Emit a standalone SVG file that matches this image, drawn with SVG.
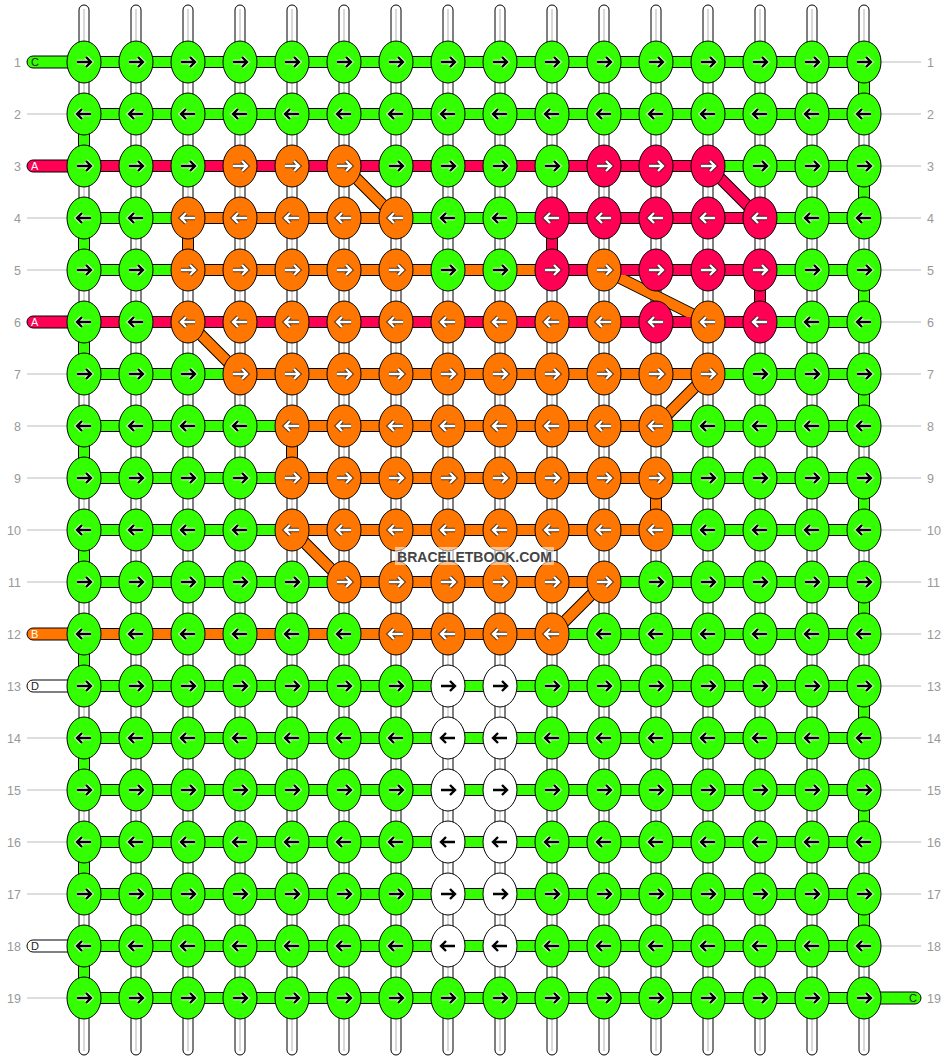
<svg xmlns="http://www.w3.org/2000/svg" xmlns:xlink="http://www.w3.org/1999/xlink" width="948" height="1060" viewBox="0 0 948 1060">
<style>
.t{fill:#fff;stroke:#000;stroke-width:1}
.tl{stroke:#c0c0c0;stroke-width:1.2}
.ol{stroke:#000;stroke-width:12;fill:none}
.cg{stroke:#33ff00;stroke-width:10;fill:none}
.co{stroke:#ff7700;stroke-width:10;fill:none}
.cp{stroke:#ff0055;stroke-width:10;fill:none}
.gl{stroke:#bbb;stroke-width:1}
.num{font-family:"Liberation Sans",Arial,sans-serif;font-size:12.5px;fill:#999}
.tab{stroke:#000;stroke-width:1}
.tt{font-family:"Liberation Sans",Arial,sans-serif;font-size:11px}
.hw{stroke:#fff;stroke-width:4.4;fill:none;stroke-opacity:.85}
.ab{stroke:#000;stroke-width:2.4;fill:none}
.hb{stroke:#222;stroke-width:4.4;fill:none;stroke-opacity:.8}
.aw{stroke:#fff;stroke-width:2.4;fill:none}
.ne{stroke:#000;stroke-width:1}
</style>
<defs>
<path id="ar" d="M-7,0H7M2,-5L7,0L2,5"/>
<path id="al" d="M7,0H-7M-2,-5L-7,0L-2,5"/>
<g id="GR"><ellipse class="ne" rx="17" ry="21" fill="#33ff00"/><use href="#ar" class="hw"/><use href="#ar" class="ab"/></g>
<g id="GL"><ellipse class="ne" rx="17" ry="21" fill="#33ff00"/><use href="#al" class="hw"/><use href="#al" class="ab"/></g>
<g id="WR"><ellipse class="ne" rx="17" ry="21" fill="#fff"/><use href="#ar" class="ab"/></g>
<g id="WL"><ellipse class="ne" rx="17" ry="21" fill="#fff"/><use href="#al" class="ab"/></g>
<g id="OR"><ellipse class="ne" rx="17" ry="21" fill="#ff7700"/><use href="#ar" class="hb"/><use href="#ar" class="aw"/></g>
<g id="OL"><ellipse class="ne" rx="17" ry="21" fill="#ff7700"/><use href="#al" class="hb"/><use href="#al" class="aw"/></g>
<g id="PR"><ellipse class="ne" rx="17" ry="21" fill="#ff0055"/><use href="#ar" class="hb"/><use href="#ar" class="aw"/></g>
<g id="PL"><ellipse class="ne" rx="17" ry="21" fill="#ff0055"/><use href="#al" class="hb"/><use href="#al" class="aw"/></g>
</defs>
<rect width="948" height="1060" fill="#fff"/>
<g id="strings">
<rect class="t" x="79" y="5" width="10" height="1050" rx="5"/><line class="tl" x1="84" y1="9" x2="84" y2="1051"/>
<rect class="t" x="131" y="5" width="10" height="1050" rx="5"/><line class="tl" x1="136" y1="9" x2="136" y2="1051"/>
<rect class="t" x="183" y="5" width="10" height="1050" rx="5"/><line class="tl" x1="188" y1="9" x2="188" y2="1051"/>
<rect class="t" x="235" y="5" width="10" height="1050" rx="5"/><line class="tl" x1="240" y1="9" x2="240" y2="1051"/>
<rect class="t" x="287" y="5" width="10" height="1050" rx="5"/><line class="tl" x1="292" y1="9" x2="292" y2="1051"/>
<rect class="t" x="339" y="5" width="10" height="1050" rx="5"/><line class="tl" x1="344" y1="9" x2="344" y2="1051"/>
<rect class="t" x="391" y="5" width="10" height="1050" rx="5"/><line class="tl" x1="396" y1="9" x2="396" y2="1051"/>
<rect class="t" x="443" y="5" width="10" height="1050" rx="5"/><line class="tl" x1="448" y1="9" x2="448" y2="1051"/>
<rect class="t" x="495" y="5" width="10" height="1050" rx="5"/><line class="tl" x1="500" y1="9" x2="500" y2="1051"/>
<rect class="t" x="547" y="5" width="10" height="1050" rx="5"/><line class="tl" x1="552" y1="9" x2="552" y2="1051"/>
<rect class="t" x="599" y="5" width="10" height="1050" rx="5"/><line class="tl" x1="604" y1="9" x2="604" y2="1051"/>
<rect class="t" x="651" y="5" width="10" height="1050" rx="5"/><line class="tl" x1="656" y1="9" x2="656" y2="1051"/>
<rect class="t" x="703" y="5" width="10" height="1050" rx="5"/><line class="tl" x1="708" y1="9" x2="708" y2="1051"/>
<rect class="t" x="755" y="5" width="10" height="1050" rx="5"/><line class="tl" x1="760" y1="9" x2="760" y2="1051"/>
<rect class="t" x="807" y="5" width="10" height="1050" rx="5"/><line class="tl" x1="812" y1="9" x2="812" y2="1051"/>
<rect class="t" x="859" y="5" width="10" height="1050" rx="5"/><line class="tl" x1="864" y1="9" x2="864" y2="1051"/>
</g>
<g id="labels">
<g class="gl">
<line x1="27" y1="114" x2="67" y2="114"/><line x1="27" y1="218" x2="67" y2="218"/><line x1="27" y1="270" x2="67" y2="270"/><line x1="27" y1="374" x2="67" y2="374"/><line x1="27" y1="426" x2="67" y2="426"/><line x1="27" y1="478" x2="67" y2="478"/><line x1="27" y1="530" x2="67" y2="530"/><line x1="27" y1="582" x2="67" y2="582"/><line x1="27" y1="738" x2="67" y2="738"/><line x1="27" y1="790" x2="67" y2="790"/><line x1="27" y1="842" x2="67" y2="842"/><line x1="27" y1="894" x2="67" y2="894"/><line x1="27" y1="998" x2="67" y2="998"/>
<line x1="881" y1="62" x2="921" y2="62"/><line x1="881" y1="114" x2="921" y2="114"/><line x1="881" y1="166" x2="921" y2="166"/><line x1="881" y1="218" x2="921" y2="218"/><line x1="881" y1="270" x2="921" y2="270"/><line x1="881" y1="322" x2="921" y2="322"/><line x1="881" y1="374" x2="921" y2="374"/><line x1="881" y1="426" x2="921" y2="426"/><line x1="881" y1="478" x2="921" y2="478"/><line x1="881" y1="530" x2="921" y2="530"/><line x1="881" y1="582" x2="921" y2="582"/><line x1="881" y1="634" x2="921" y2="634"/><line x1="881" y1="686" x2="921" y2="686"/><line x1="881" y1="738" x2="921" y2="738"/><line x1="881" y1="790" x2="921" y2="790"/><line x1="881" y1="842" x2="921" y2="842"/><line x1="881" y1="894" x2="921" y2="894"/><line x1="881" y1="946" x2="921" y2="946"/>
</g>
<g class="num" text-anchor="end">
<text x="21" y="66.5">1</text><text x="21" y="118.5">2</text><text x="21" y="170.5">3</text><text x="21" y="222.5">4</text><text x="21" y="274.5">5</text><text x="21" y="326.5">6</text><text x="21" y="378.5">7</text><text x="21" y="430.5">8</text><text x="21" y="482.5">9</text><text x="21" y="534.5">10</text><text x="21" y="586.5">11</text><text x="21" y="638.5">12</text><text x="21" y="690.5">13</text><text x="21" y="742.5">14</text><text x="21" y="794.5">15</text><text x="21" y="846.5">16</text><text x="21" y="898.5">17</text><text x="21" y="950.5">18</text><text x="21" y="1002.5">19</text>
</g>
<g class="num">
<text x="927" y="66.5">1</text><text x="927" y="118.5">2</text><text x="927" y="170.5">3</text><text x="927" y="222.5">4</text><text x="927" y="274.5">5</text><text x="927" y="326.5">6</text><text x="927" y="378.5">7</text><text x="927" y="430.5">8</text><text x="927" y="482.5">9</text><text x="927" y="534.5">10</text><text x="927" y="586.5">11</text><text x="927" y="638.5">12</text><text x="927" y="690.5">13</text><text x="927" y="742.5">14</text><text x="927" y="794.5">15</text><text x="927" y="846.5">16</text><text x="927" y="898.5">17</text><text x="927" y="950.5">18</text><text x="927" y="1002.5">19</text>
</g>
</g>
<g id="connectors">
<path class="ol" d="M84,62H864M84,114H864M84,166H864M84,218H864M84,270H864M84,322H864M84,374H864M84,426H864M84,478H864M84,530H864M84,582H864M84,634H864M84,686H864M84,738H864M84,790H864M84,842H864M84,894H864M84,946H864M84,998H864
M84,114V166M84,218V270M84,322V374M84,426V478M84,530V582M84,634V686M84,738V790M84,842V894M84,946V998
M864,62V114M864,166V218M864,270V322M864,374V426M864,478V530M864,582V634M864,686V738M864,790V842M864,894V946
M188,218V270M292,426V478M656,478V530M552,218V270M760,270V322
M344,166L396,218M604,270L708,322M188,322L240,374M708,374L656,426M292,530L344,582M604,582L552,634M708,166L760,218"/>
<path class="cg" d="M84,62H864M84,114H864M708,166H864M84,218H188M396,218H552M760,218H864M84,270H188M760,270H864M760,322H864M84,374H240M708,374H864M84,426H292M656,426H864M84,478H292M656,478H864M84,530H292M656,530H864M84,582H344M604,582H864M552,634H864M84,686H864M84,738H864M84,790H864M84,842H864M84,894H864M84,946H864M84,998H864
M84,114V166M84,218V270M84,322V374M84,426V478M84,530V582M84,634V686M84,738V790M84,842V894M84,946V998
M864,62V114M864,166V218M864,270V322M864,374V426M864,478V530M864,582V634M864,686V738M864,790V842M864,894V946"/>
<path class="co" d="M188,218H396M188,270H552M240,374H708M292,426H656M292,478H656M292,530H656M344,582H604M84,634H552
M188,218V270M292,426V478M656,478V530
M344,166L396,218M604,270L708,322M188,322L240,374M708,374L656,426M292,530L344,582M604,582L552,634"/>
<path class="cp" d="M84,166H708M552,218H760M552,270H760M84,322H760M552,218V270M760,270V322M708,166L760,218"/>
<g id="tabs">
<rect class="tab" x="27" y="56" width="57" height="12" rx="6" fill="#33ff00"/>
<rect class="tab" x="27" y="160" width="57" height="12" rx="6" fill="#ff0055"/>
<rect class="tab" x="27" y="316" width="57" height="12" rx="6" fill="#ff0055"/>
<rect class="tab" x="27" y="628" width="57" height="12" rx="6" fill="#ff7700"/>
<rect class="tab" x="27" y="680" width="57" height="12" rx="6" fill="#fff"/>
<rect class="tab" x="27" y="940" width="57" height="12" rx="6" fill="#fff"/>
<rect class="tab" x="864" y="992" width="57" height="12" rx="6" fill="#33ff00"/>
<text class="tt" x="31" y="66" fill="#222">C</text>
<text class="tt" x="31" y="170" fill="#fff">A</text>
<text class="tt" x="31" y="326" fill="#fff">A</text>
<text class="tt" x="31" y="638" fill="#fff">B</text>
<text class="tt" x="31" y="690" fill="#222">D</text>
<text class="tt" x="31" y="950" fill="#222">D</text>
<text class="tt" x="909" y="1002" fill="#222">C</text>
</g>
</g>
<g id="nodes">
<g id="k1-1"><use href="#GR" x="84" y="62"/></g><g id="k1-2"><use href="#GR" x="136" y="62"/></g><g id="k1-3"><use href="#GR" x="188" y="62"/></g><g id="k1-4"><use href="#GR" x="240" y="62"/></g><g id="k1-5"><use href="#GR" x="292" y="62"/></g><g id="k1-6"><use href="#GR" x="344" y="62"/></g><g id="k1-7"><use href="#GR" x="396" y="62"/></g><g id="k1-8"><use href="#GR" x="448" y="62"/></g><g id="k1-9"><use href="#GR" x="500" y="62"/></g><g id="k1-10"><use href="#GR" x="552" y="62"/></g><g id="k1-11"><use href="#GR" x="604" y="62"/></g><g id="k1-12"><use href="#GR" x="656" y="62"/></g><g id="k1-13"><use href="#GR" x="708" y="62"/></g><g id="k1-14"><use href="#GR" x="760" y="62"/></g><g id="k1-15"><use href="#GR" x="812" y="62"/></g><g id="k1-16"><use href="#GR" x="864" y="62"/></g>
<g id="k2-1"><use href="#GL" x="84" y="114"/></g><g id="k2-2"><use href="#GL" x="136" y="114"/></g><g id="k2-3"><use href="#GL" x="188" y="114"/></g><g id="k2-4"><use href="#GL" x="240" y="114"/></g><g id="k2-5"><use href="#GL" x="292" y="114"/></g><g id="k2-6"><use href="#GL" x="344" y="114"/></g><g id="k2-7"><use href="#GL" x="396" y="114"/></g><g id="k2-8"><use href="#GL" x="448" y="114"/></g><g id="k2-9"><use href="#GL" x="500" y="114"/></g><g id="k2-10"><use href="#GL" x="552" y="114"/></g><g id="k2-11"><use href="#GL" x="604" y="114"/></g><g id="k2-12"><use href="#GL" x="656" y="114"/></g><g id="k2-13"><use href="#GL" x="708" y="114"/></g><g id="k2-14"><use href="#GL" x="760" y="114"/></g><g id="k2-15"><use href="#GL" x="812" y="114"/></g><g id="k2-16"><use href="#GL" x="864" y="114"/></g>
<g id="k3-1"><use href="#GR" x="84" y="166"/></g><g id="k3-2"><use href="#GR" x="136" y="166"/></g><g id="k3-3"><use href="#GR" x="188" y="166"/></g><g id="k3-4"><use href="#OR" x="240" y="166"/></g><g id="k3-5"><use href="#OR" x="292" y="166"/></g><g id="k3-6"><use href="#OR" x="344" y="166"/></g><g id="k3-7"><use href="#GR" x="396" y="166"/></g><g id="k3-8"><use href="#GR" x="448" y="166"/></g><g id="k3-9"><use href="#GR" x="500" y="166"/></g><g id="k3-10"><use href="#GR" x="552" y="166"/></g><g id="k3-11"><use href="#PR" x="604" y="166"/></g><g id="k3-12"><use href="#PR" x="656" y="166"/></g><g id="k3-13"><use href="#PR" x="708" y="166"/></g><g id="k3-14"><use href="#GR" x="760" y="166"/></g><g id="k3-15"><use href="#GR" x="812" y="166"/></g><g id="k3-16"><use href="#GR" x="864" y="166"/></g>
<g id="k4-1"><use href="#GL" x="84" y="218"/></g><g id="k4-2"><use href="#GL" x="136" y="218"/></g><g id="k4-3"><use href="#OL" x="188" y="218"/></g><g id="k4-4"><use href="#OL" x="240" y="218"/></g><g id="k4-5"><use href="#OL" x="292" y="218"/></g><g id="k4-6"><use href="#OL" x="344" y="218"/></g><g id="k4-7"><use href="#OL" x="396" y="218"/></g><g id="k4-8"><use href="#GL" x="448" y="218"/></g><g id="k4-9"><use href="#GL" x="500" y="218"/></g><g id="k4-10"><use href="#PL" x="552" y="218"/></g><g id="k4-11"><use href="#PL" x="604" y="218"/></g><g id="k4-12"><use href="#PL" x="656" y="218"/></g><g id="k4-13"><use href="#PL" x="708" y="218"/></g><g id="k4-14"><use href="#PL" x="760" y="218"/></g><g id="k4-15"><use href="#GL" x="812" y="218"/></g><g id="k4-16"><use href="#GL" x="864" y="218"/></g>
<g id="k5-1"><use href="#GR" x="84" y="270"/></g><g id="k5-2"><use href="#GR" x="136" y="270"/></g><g id="k5-3"><use href="#OR" x="188" y="270"/></g><g id="k5-4"><use href="#OR" x="240" y="270"/></g><g id="k5-5"><use href="#OR" x="292" y="270"/></g><g id="k5-6"><use href="#OR" x="344" y="270"/></g><g id="k5-7"><use href="#OR" x="396" y="270"/></g><g id="k5-8"><use href="#GR" x="448" y="270"/></g><g id="k5-9"><use href="#GR" x="500" y="270"/></g><g id="k5-10"><use href="#PR" x="552" y="270"/></g><g id="k5-11"><use href="#OR" x="604" y="270"/></g><g id="k5-12"><use href="#PR" x="656" y="270"/></g><g id="k5-13"><use href="#PR" x="708" y="270"/></g><g id="k5-14"><use href="#PR" x="760" y="270"/></g><g id="k5-15"><use href="#GR" x="812" y="270"/></g><g id="k5-16"><use href="#GR" x="864" y="270"/></g>
<g id="k6-1"><use href="#GL" x="84" y="322"/></g><g id="k6-2"><use href="#GL" x="136" y="322"/></g><g id="k6-3"><use href="#OL" x="188" y="322"/></g><g id="k6-4"><use href="#OL" x="240" y="322"/></g><g id="k6-5"><use href="#OL" x="292" y="322"/></g><g id="k6-6"><use href="#OL" x="344" y="322"/></g><g id="k6-7"><use href="#OL" x="396" y="322"/></g><g id="k6-8"><use href="#OL" x="448" y="322"/></g><g id="k6-9"><use href="#OL" x="500" y="322"/></g><g id="k6-10"><use href="#OL" x="552" y="322"/></g><g id="k6-11"><use href="#OL" x="604" y="322"/></g><g id="k6-12"><use href="#PL" x="656" y="322"/></g><g id="k6-13"><use href="#OL" x="708" y="322"/></g><g id="k6-14"><use href="#PL" x="760" y="322"/></g><g id="k6-15"><use href="#GL" x="812" y="322"/></g><g id="k6-16"><use href="#GL" x="864" y="322"/></g>
<g id="k7-1"><use href="#GR" x="84" y="374"/></g><g id="k7-2"><use href="#GR" x="136" y="374"/></g><g id="k7-3"><use href="#GR" x="188" y="374"/></g><g id="k7-4"><use href="#OR" x="240" y="374"/></g><g id="k7-5"><use href="#OR" x="292" y="374"/></g><g id="k7-6"><use href="#OR" x="344" y="374"/></g><g id="k7-7"><use href="#OR" x="396" y="374"/></g><g id="k7-8"><use href="#OR" x="448" y="374"/></g><g id="k7-9"><use href="#OR" x="500" y="374"/></g><g id="k7-10"><use href="#OR" x="552" y="374"/></g><g id="k7-11"><use href="#OR" x="604" y="374"/></g><g id="k7-12"><use href="#OR" x="656" y="374"/></g><g id="k7-13"><use href="#OR" x="708" y="374"/></g><g id="k7-14"><use href="#GR" x="760" y="374"/></g><g id="k7-15"><use href="#GR" x="812" y="374"/></g><g id="k7-16"><use href="#GR" x="864" y="374"/></g>
<g id="k8-1"><use href="#GL" x="84" y="426"/></g><g id="k8-2"><use href="#GL" x="136" y="426"/></g><g id="k8-3"><use href="#GL" x="188" y="426"/></g><g id="k8-4"><use href="#GL" x="240" y="426"/></g><g id="k8-5"><use href="#OL" x="292" y="426"/></g><g id="k8-6"><use href="#OL" x="344" y="426"/></g><g id="k8-7"><use href="#OL" x="396" y="426"/></g><g id="k8-8"><use href="#OL" x="448" y="426"/></g><g id="k8-9"><use href="#OL" x="500" y="426"/></g><g id="k8-10"><use href="#OL" x="552" y="426"/></g><g id="k8-11"><use href="#OL" x="604" y="426"/></g><g id="k8-12"><use href="#OL" x="656" y="426"/></g><g id="k8-13"><use href="#GL" x="708" y="426"/></g><g id="k8-14"><use href="#GL" x="760" y="426"/></g><g id="k8-15"><use href="#GL" x="812" y="426"/></g><g id="k8-16"><use href="#GL" x="864" y="426"/></g>
<g id="k9-1"><use href="#GR" x="84" y="478"/></g><g id="k9-2"><use href="#GR" x="136" y="478"/></g><g id="k9-3"><use href="#GR" x="188" y="478"/></g><g id="k9-4"><use href="#GR" x="240" y="478"/></g><g id="k9-5"><use href="#OR" x="292" y="478"/></g><g id="k9-6"><use href="#OR" x="344" y="478"/></g><g id="k9-7"><use href="#OR" x="396" y="478"/></g><g id="k9-8"><use href="#OR" x="448" y="478"/></g><g id="k9-9"><use href="#OR" x="500" y="478"/></g><g id="k9-10"><use href="#OR" x="552" y="478"/></g><g id="k9-11"><use href="#OR" x="604" y="478"/></g><g id="k9-12"><use href="#OR" x="656" y="478"/></g><g id="k9-13"><use href="#GR" x="708" y="478"/></g><g id="k9-14"><use href="#GR" x="760" y="478"/></g><g id="k9-15"><use href="#GR" x="812" y="478"/></g><g id="k9-16"><use href="#GR" x="864" y="478"/></g>
<g id="k10-1"><use href="#GL" x="84" y="530"/></g><g id="k10-2"><use href="#GL" x="136" y="530"/></g><g id="k10-3"><use href="#GL" x="188" y="530"/></g><g id="k10-4"><use href="#GL" x="240" y="530"/></g><g id="k10-5"><use href="#OL" x="292" y="530"/></g><g id="k10-6"><use href="#OL" x="344" y="530"/></g><g id="k10-7"><use href="#OL" x="396" y="530"/></g><g id="k10-8"><use href="#OL" x="448" y="530"/></g><g id="k10-9"><use href="#OL" x="500" y="530"/></g><g id="k10-10"><use href="#OL" x="552" y="530"/></g><g id="k10-11"><use href="#OL" x="604" y="530"/></g><g id="k10-12"><use href="#OL" x="656" y="530"/></g><g id="k10-13"><use href="#GL" x="708" y="530"/></g><g id="k10-14"><use href="#GL" x="760" y="530"/></g><g id="k10-15"><use href="#GL" x="812" y="530"/></g><g id="k10-16"><use href="#GL" x="864" y="530"/></g>
<g id="k11-1"><use href="#GR" x="84" y="582"/></g><g id="k11-2"><use href="#GR" x="136" y="582"/></g><g id="k11-3"><use href="#GR" x="188" y="582"/></g><g id="k11-4"><use href="#GR" x="240" y="582"/></g><g id="k11-5"><use href="#GR" x="292" y="582"/></g><g id="k11-6"><use href="#OR" x="344" y="582"/></g><g id="k11-7"><use href="#OR" x="396" y="582"/></g><g id="k11-8"><use href="#OR" x="448" y="582"/></g><g id="k11-9"><use href="#OR" x="500" y="582"/></g><g id="k11-10"><use href="#OR" x="552" y="582"/></g><g id="k11-11"><use href="#OR" x="604" y="582"/></g><g id="k11-12"><use href="#GR" x="656" y="582"/></g><g id="k11-13"><use href="#GR" x="708" y="582"/></g><g id="k11-14"><use href="#GR" x="760" y="582"/></g><g id="k11-15"><use href="#GR" x="812" y="582"/></g><g id="k11-16"><use href="#GR" x="864" y="582"/></g>
<g id="k12-1"><use href="#GL" x="84" y="634"/></g><g id="k12-2"><use href="#GL" x="136" y="634"/></g><g id="k12-3"><use href="#GL" x="188" y="634"/></g><g id="k12-4"><use href="#GL" x="240" y="634"/></g><g id="k12-5"><use href="#GL" x="292" y="634"/></g><g id="k12-6"><use href="#GL" x="344" y="634"/></g><g id="k12-7"><use href="#OL" x="396" y="634"/></g><g id="k12-8"><use href="#OL" x="448" y="634"/></g><g id="k12-9"><use href="#OL" x="500" y="634"/></g><g id="k12-10"><use href="#OL" x="552" y="634"/></g><g id="k12-11"><use href="#GL" x="604" y="634"/></g><g id="k12-12"><use href="#GL" x="656" y="634"/></g><g id="k12-13"><use href="#GL" x="708" y="634"/></g><g id="k12-14"><use href="#GL" x="760" y="634"/></g><g id="k12-15"><use href="#GL" x="812" y="634"/></g><g id="k12-16"><use href="#GL" x="864" y="634"/></g>
<g id="k13-1"><use href="#GR" x="84" y="686"/></g><g id="k13-2"><use href="#GR" x="136" y="686"/></g><g id="k13-3"><use href="#GR" x="188" y="686"/></g><g id="k13-4"><use href="#GR" x="240" y="686"/></g><g id="k13-5"><use href="#GR" x="292" y="686"/></g><g id="k13-6"><use href="#GR" x="344" y="686"/></g><g id="k13-7"><use href="#GR" x="396" y="686"/></g><g id="k13-8"><use href="#WR" x="448" y="686"/></g><g id="k13-9"><use href="#WR" x="500" y="686"/></g><g id="k13-10"><use href="#GR" x="552" y="686"/></g><g id="k13-11"><use href="#GR" x="604" y="686"/></g><g id="k13-12"><use href="#GR" x="656" y="686"/></g><g id="k13-13"><use href="#GR" x="708" y="686"/></g><g id="k13-14"><use href="#GR" x="760" y="686"/></g><g id="k13-15"><use href="#GR" x="812" y="686"/></g><g id="k13-16"><use href="#GR" x="864" y="686"/></g>
<g id="k14-1"><use href="#GL" x="84" y="738"/></g><g id="k14-2"><use href="#GL" x="136" y="738"/></g><g id="k14-3"><use href="#GL" x="188" y="738"/></g><g id="k14-4"><use href="#GL" x="240" y="738"/></g><g id="k14-5"><use href="#GL" x="292" y="738"/></g><g id="k14-6"><use href="#GL" x="344" y="738"/></g><g id="k14-7"><use href="#GL" x="396" y="738"/></g><g id="k14-8"><use href="#WL" x="448" y="738"/></g><g id="k14-9"><use href="#WL" x="500" y="738"/></g><g id="k14-10"><use href="#GL" x="552" y="738"/></g><g id="k14-11"><use href="#GL" x="604" y="738"/></g><g id="k14-12"><use href="#GL" x="656" y="738"/></g><g id="k14-13"><use href="#GL" x="708" y="738"/></g><g id="k14-14"><use href="#GL" x="760" y="738"/></g><g id="k14-15"><use href="#GL" x="812" y="738"/></g><g id="k14-16"><use href="#GL" x="864" y="738"/></g>
<g id="k15-1"><use href="#GR" x="84" y="790"/></g><g id="k15-2"><use href="#GR" x="136" y="790"/></g><g id="k15-3"><use href="#GR" x="188" y="790"/></g><g id="k15-4"><use href="#GR" x="240" y="790"/></g><g id="k15-5"><use href="#GR" x="292" y="790"/></g><g id="k15-6"><use href="#GR" x="344" y="790"/></g><g id="k15-7"><use href="#GR" x="396" y="790"/></g><g id="k15-8"><use href="#WR" x="448" y="790"/></g><g id="k15-9"><use href="#WR" x="500" y="790"/></g><g id="k15-10"><use href="#GR" x="552" y="790"/></g><g id="k15-11"><use href="#GR" x="604" y="790"/></g><g id="k15-12"><use href="#GR" x="656" y="790"/></g><g id="k15-13"><use href="#GR" x="708" y="790"/></g><g id="k15-14"><use href="#GR" x="760" y="790"/></g><g id="k15-15"><use href="#GR" x="812" y="790"/></g><g id="k15-16"><use href="#GR" x="864" y="790"/></g>
<g id="k16-1"><use href="#GL" x="84" y="842"/></g><g id="k16-2"><use href="#GL" x="136" y="842"/></g><g id="k16-3"><use href="#GL" x="188" y="842"/></g><g id="k16-4"><use href="#GL" x="240" y="842"/></g><g id="k16-5"><use href="#GL" x="292" y="842"/></g><g id="k16-6"><use href="#GL" x="344" y="842"/></g><g id="k16-7"><use href="#GL" x="396" y="842"/></g><g id="k16-8"><use href="#WL" x="448" y="842"/></g><g id="k16-9"><use href="#WL" x="500" y="842"/></g><g id="k16-10"><use href="#GL" x="552" y="842"/></g><g id="k16-11"><use href="#GL" x="604" y="842"/></g><g id="k16-12"><use href="#GL" x="656" y="842"/></g><g id="k16-13"><use href="#GL" x="708" y="842"/></g><g id="k16-14"><use href="#GL" x="760" y="842"/></g><g id="k16-15"><use href="#GL" x="812" y="842"/></g><g id="k16-16"><use href="#GL" x="864" y="842"/></g>
<g id="k17-1"><use href="#GR" x="84" y="894"/></g><g id="k17-2"><use href="#GR" x="136" y="894"/></g><g id="k17-3"><use href="#GR" x="188" y="894"/></g><g id="k17-4"><use href="#GR" x="240" y="894"/></g><g id="k17-5"><use href="#GR" x="292" y="894"/></g><g id="k17-6"><use href="#GR" x="344" y="894"/></g><g id="k17-7"><use href="#GR" x="396" y="894"/></g><g id="k17-8"><use href="#WR" x="448" y="894"/></g><g id="k17-9"><use href="#WR" x="500" y="894"/></g><g id="k17-10"><use href="#GR" x="552" y="894"/></g><g id="k17-11"><use href="#GR" x="604" y="894"/></g><g id="k17-12"><use href="#GR" x="656" y="894"/></g><g id="k17-13"><use href="#GR" x="708" y="894"/></g><g id="k17-14"><use href="#GR" x="760" y="894"/></g><g id="k17-15"><use href="#GR" x="812" y="894"/></g><g id="k17-16"><use href="#GR" x="864" y="894"/></g>
<g id="k18-1"><use href="#GL" x="84" y="946"/></g><g id="k18-2"><use href="#GL" x="136" y="946"/></g><g id="k18-3"><use href="#GL" x="188" y="946"/></g><g id="k18-4"><use href="#GL" x="240" y="946"/></g><g id="k18-5"><use href="#GL" x="292" y="946"/></g><g id="k18-6"><use href="#GL" x="344" y="946"/></g><g id="k18-7"><use href="#GL" x="396" y="946"/></g><g id="k18-8"><use href="#WL" x="448" y="946"/></g><g id="k18-9"><use href="#WL" x="500" y="946"/></g><g id="k18-10"><use href="#GL" x="552" y="946"/></g><g id="k18-11"><use href="#GL" x="604" y="946"/></g><g id="k18-12"><use href="#GL" x="656" y="946"/></g><g id="k18-13"><use href="#GL" x="708" y="946"/></g><g id="k18-14"><use href="#GL" x="760" y="946"/></g><g id="k18-15"><use href="#GL" x="812" y="946"/></g><g id="k18-16"><use href="#GL" x="864" y="946"/></g>
<g id="k19-1"><use href="#GR" x="84" y="998"/></g><g id="k19-2"><use href="#GR" x="136" y="998"/></g><g id="k19-3"><use href="#GR" x="188" y="998"/></g><g id="k19-4"><use href="#GR" x="240" y="998"/></g><g id="k19-5"><use href="#GR" x="292" y="998"/></g><g id="k19-6"><use href="#GR" x="344" y="998"/></g><g id="k19-7"><use href="#GR" x="396" y="998"/></g><g id="k19-8"><use href="#GR" x="448" y="998"/></g><g id="k19-9"><use href="#GR" x="500" y="998"/></g><g id="k19-10"><use href="#GR" x="552" y="998"/></g><g id="k19-11"><use href="#GR" x="604" y="998"/></g><g id="k19-12"><use href="#GR" x="656" y="998"/></g><g id="k19-13"><use href="#GR" x="708" y="998"/></g><g id="k19-14"><use href="#GR" x="760" y="998"/></g><g id="k19-15"><use href="#GR" x="812" y="998"/></g><g id="k19-16"><use href="#GR" x="864" y="998"/></g>
</g>
<g id="watermark">
<rect x="395" y="547" width="159" height="18" fill="#fff" fill-opacity=".55"/>
<text x="474.5" y="562" text-anchor="middle" font-family="Liberation Sans, Arial, sans-serif" font-size="14" font-weight="bold" fill="#444">BRACELETBOOK.COM</text>
</g>
</svg>
